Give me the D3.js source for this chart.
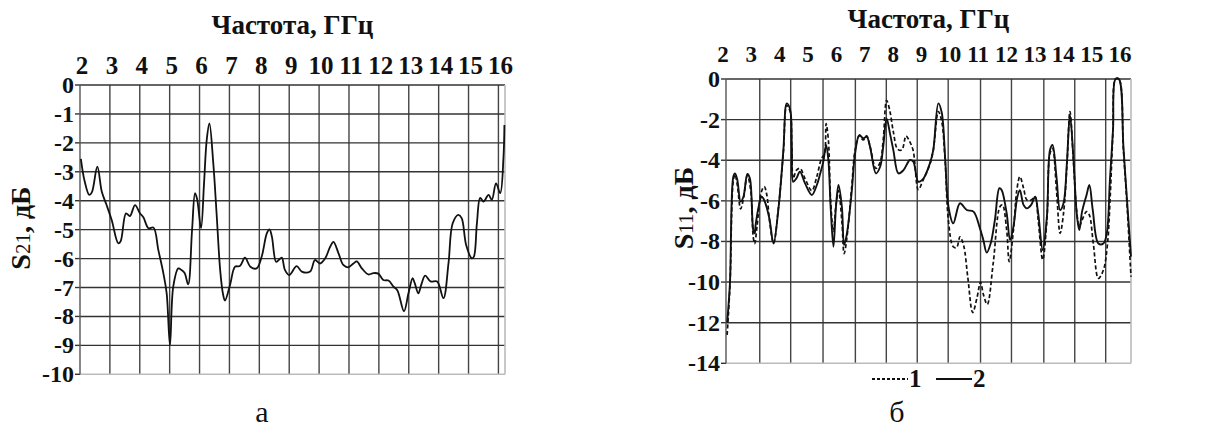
<!DOCTYPE html>
<html>
<head>
<meta charset="utf-8">
<script src="https://d3js.org/d3.v7.min.js"></script>
<style>
body { margin: 0; background: #fff; }
</style>
</head>
<body>
<div id="plot"></div>
<script>
var width = 1227, height = 428;

// S21 (a)
var s21 = [[2.03,-2.55],[2.15,-3.3],[2.31,-3.8],[2.4,-3.7],[2.58,-2.82],[2.73,-3.69],[2.89,-4.15],[3.06,-4.67],[3.28,-5.47],[3.36,-5.4],[3.54,-4.44],[3.67,-4.53],[3.84,-4.15],[4.01,-4.44],[4.12,-4.57],[4.29,-4.95],[4.46,-4.93],[4.62,-5.7],[4.79,-6.51],[4.9,-7.2],[5.01,-8.99],[5.12,-6.97],[5.29,-6.34],[5.4,-6.4],[5.5,-6.5],[5.62,-6.89],[5.75,-5.0],[5.85,-3.74],[5.92,-3.95],[6.05,-4.95],[6.15,-3.4],[6.24,-1.9],[6.33,-1.33],[6.46,-2.71],[6.57,-4.44],[6.69,-6.4],[6.78,-7.2],[6.85,-7.45],[7.02,-6.91],[7.19,-6.28],[7.35,-6.26],[7.52,-5.97],[7.7,-6.28],[7.91,-6.34],[8.08,-5.93],[8.25,-5.13],[8.34,-4.99],[8.42,-5.24],[8.56,-6.11],[8.65,-6.05],[8.75,-5.97],[8.86,-6.4],[9.0,-6.57],[9.25,-6.26],[9.42,-6.45],[9.7,-6.45],[9.86,-6.05],[10.03,-6.17],[10.2,-6.0],[10.37,-5.59],[10.48,-5.42],[10.65,-5.82],[10.81,-6.22],[10.98,-6.3],[11.15,-6.17],[11.26,-6.1],[11.43,-6.34],[11.65,-6.55],[11.82,-6.5],[11.98,-6.52],[12.15,-6.74],[12.32,-6.76],[12.49,-6.97],[12.62,-7.1],[12.84,-7.82],[12.99,-7.2],[13.13,-6.68],[13.2,-6.85],[13.32,-7.2],[13.42,-6.9],[13.55,-6.59],[13.73,-6.79],[13.95,-6.79],[14.16,-7.37],[14.33,-6.16],[14.47,-4.78],[14.66,-4.49],[14.77,-4.6],[14.92,-5.53],[15.11,-5.99],[15.18,-5.93],[15.28,-4.78],[15.39,-3.9],[15.5,-4.03],[15.67,-3.8],[15.78,-3.97],[15.92,-3.4],[16.06,-3.74],[16.17,-2.48],[16.2,-1.38]];

// S11 (б), curve 1 dashed
var s11a = [[2.04,-12.6],[2.14,-10.2],[2.26,-5.0],[2.32,-4.7],[2.4,-5.2],[2.52,-6.4],[2.62,-5.9],[2.76,-4.75],[2.88,-5.5],[2.97,-7.8],[3.02,-8.1],[3.1,-7.3],[3.25,-5.6],[3.36,-5.3],[3.45,-5.7],[3.55,-7.0],[3.69,-8.1],[3.86,-6.4],[4.04,-3.6],[4.16,-1.3],[4.28,-1.6],[4.34,-3.4],[4.39,-4.9],[4.5,-4.5],[4.63,-4.4],[4.81,-4.9],[5.05,-5.5],[5.23,-4.8],[5.4,-3.9],[5.5,-3.7],[5.56,-2.2],[5.64,-3.0],[5.72,-6.0],[5.82,-7.5],[5.91,-6.2],[6.0,-5.5],[6.12,-7.0],[6.2,-8.6],[6.3,-7.8],[6.47,-5.3],[6.59,-3.5],[6.74,-2.8],[6.88,-3.0],[7.0,-2.8],[7.12,-3.3],[7.33,-4.4],[7.48,-4.1],[7.59,-3.0],[7.71,-1.05],[7.83,-1.6],[7.95,-2.6],[8.1,-3.45],[8.25,-3.5],[8.4,-2.8],[8.5,-3.0],[8.65,-3.5],[8.84,-5.45],[9.0,-5.0],[9.25,-4.2],[9.37,-3.5],[9.55,-1.6],[9.67,-2.1],[9.79,-4.0],[9.91,-7.0],[10.08,-8.26],[10.2,-8.3],[10.32,-7.77],[10.45,-8.2],[10.6,-9.8],[10.77,-11.5],[10.92,-10.8],[11.05,-10.0],[11.15,-10.6],[11.29,-11.1],[11.5,-9.08],[11.74,-6.29],[11.83,-6.2],[11.98,-7.44],[12.07,-9.0],[12.22,-7.44],[12.34,-5.47],[12.45,-4.81],[12.58,-5.38],[12.7,-5.96],[12.85,-5.96],[12.99,-5.8],[13.1,-6.95],[13.26,-8.9],[13.41,-6.95],[13.52,-3.66],[13.61,-3.42],[13.75,-5.47],[13.88,-7.6],[14.0,-6.62],[14.12,-4.32],[14.23,-1.6],[14.35,-3.99],[14.47,-6.53],[14.56,-7.27],[14.66,-6.95],[14.82,-6.53],[14.92,-6.7],[15.06,-8.1],[15.24,-9.82],[15.42,-9.4],[15.56,-8.18],[15.66,-5.8],[15.76,-2.5],[15.85,0],[15.97,0],[16.13,-3.5],[16.25,-6.0],[16.4,-9.74]];

// S11 (б), curve 2 solid
var s11b = [[2.04,-12.0],[2.14,-10.06],[2.26,-4.81],[2.32,-4.65],[2.4,-4.95],[2.52,-6.04],[2.62,-5.8],[2.76,-4.68],[2.85,-4.9],[2.97,-7.44],[3.02,-7.6],[3.06,-7.11],[3.27,-5.8],[3.38,-6.04],[3.54,-6.86],[3.69,-8.1],[3.86,-6.45],[4.04,-3.5],[4.16,-1.2],[4.28,-1.5],[4.34,-3.33],[4.39,-5.06],[4.5,-4.9],[4.63,-4.57],[4.81,-5.14],[5.05,-5.71],[5.23,-5.22],[5.35,-4.65],[5.46,-4.07],[5.56,-3.25],[5.64,-3.99],[5.72,-6.29],[5.82,-8.26],[5.91,-6.29],[6.0,-5.22],[6.12,-6.29],[6.2,-8.18],[6.3,-7.6],[6.47,-5.55],[6.59,-3.66],[6.74,-2.76],[6.88,-2.92],[7.0,-2.84],[7.12,-3.33],[7.33,-4.65],[7.48,-4.32],[7.59,-3.33],[7.71,-1.94],[7.83,-2.68],[7.95,-3.5],[8.13,-4.65],[8.31,-4.49],[8.54,-3.99],[8.66,-4.07],[8.84,-5.06],[9.02,-4.9],[9.25,-4.15],[9.37,-3.5],[9.55,-1.2],[9.67,-1.65],[9.79,-3.83],[9.91,-6.29],[10.08,-7.11],[10.32,-6.12],[10.56,-6.45],[10.8,-6.53],[11.03,-7.36],[11.15,-7.93],[11.27,-8.55],[11.41,-8.1],[11.56,-6.95],[11.72,-5.38],[11.8,-5.47],[11.98,-6.62],[12.1,-7.93],[12.22,-7.27],[12.36,-5.8],[12.45,-5.47],[12.58,-6.2],[12.7,-6.37],[12.85,-6.2],[12.99,-5.8],[13.1,-6.62],[13.26,-8.42],[13.41,-6.78],[13.52,-3.5],[13.61,-3.25],[13.75,-4.82],[13.88,-6.45],[14.0,-6.12],[14.12,-4.15],[14.23,-1.77],[14.35,-3.83],[14.47,-6.62],[14.56,-7.44],[14.66,-6.53],[14.82,-5.71],[14.92,-5.22],[15.04,-6.45],[15.24,-8.1],[15.42,-8.1],[15.54,-7.6],[15.65,-4.98],[15.76,-2.51],[15.85,0],[15.97,0],[16.13,-3.33],[16.25,-5.8],[16.4,-8.75]];

var freqTicks = d3.range(2, 17);          // 2 ... 16 GHz
var s21Ticks = d3.range(0, -11, -1);      // 0 ... -10 dB
var s11Ticks = d3.range(0, -15, -2);      // 0 ... -14 dB
// the grid of panel б is not on whole GHz
var s11Grid = [3.2, 4.3, 5.45, 6.6, 7.7, 8.8, 9.9, 11.05, 12.15, 13.3, 14.4, 15.5];

var serif = '"Liberation Serif", "Times New Roman", serif';

var svg = d3.select("#plot").append("svg").attr("width", width).attr("height", height);
svg.append("rect").attr("width", width).attr("height", height).attr("fill", "#fff");

function label(sel) {
	return sel.style("font-family", serif).style("fill", "#111");
}

function panel(p) {
	var g = svg.append("g");
	var x = p.x, y = p.y;
	var x0 = x.range()[0], x1 = x.range()[1];
	var y0 = y.range()[0], y1 = y.range()[1];

	// vertical grid
	g.selectAll(".vg").data(p.grid).enter().append("line")
	.attr("x1", d => x(d)).attr("x2", d => x(d))
	.attr("y1", y1).attr("y2", y0)
	.attr("stroke", "#444").attr("stroke-width", 1.4);

	// horizontal grid + ticks
	g.selectAll(".hg").data(p.yTicks.slice(0, -1)).enter().append("line")
	.attr("x1", x0).attr("x2", x1)
	.attr("y1", d => y(d)).attr("y2", d => y(d))
	.attr("stroke", "#333").attr("stroke-width", 1.4);

	g.selectAll(".tk").data(p.yTicks).enter().append("line")
	.attr("x1", x0 - 5).attr("x2", x0)
	.attr("y1", d => y(d)).attr("y2", d => y(d))
	.attr("stroke", "#333").attr("stroke-width", 1.4);

	// frame: light bottom and right, dark left
	g.append("line").attr("x1", x0).attr("x2", x1).attr("y1", y0).attr("y2", y0)
	.attr("stroke", "#bbb").attr("stroke-width", 1.6);
	g.append("line").attr("x1", x1).attr("x2", x1).attr("y1", y1).attr("y2", y0)
	.attr("stroke", "#bbb").attr("stroke-width", 1.6);
	g.append("line").attr("x1", x0).attr("x2", x0).attr("y1", y1).attr("y2", y0)
	.attr("stroke", "#555").attr("stroke-width", 1.4);

	// y labels
	g.selectAll(".yl").data(p.yTicks).enter().append("text")
	.attr("x", x0 - 6).attr("y", d => y(d) + 8)
	.attr("text-anchor", "end").attr("font-weight", "bold")
	.attr("font-size", 24).text(d => d)
	.call(label);

	// x labels on top
	g.selectAll(".xl").data(freqTicks).enter().append("text")
	.attr("x", d => p.xl(d)).attr("y", p.xlY)
	.attr("text-anchor", "middle").attr("font-weight", "bold")
	.attr("font-size", p.xlSize).text(d => d)
	.call(label);

	g.append("text").attr("x", (x0 + x1) / 2).attr("y", p.titleY)
	.attr("text-anchor", "middle").attr("font-weight", "bold")
	.attr("font-size", 27).text("Частота, ГГц")
	.call(label);

	var yt = g.append("text")
	.attr("transform", "translate(" + p.ylX + "," + p.ylY + ") rotate(-90)")
	.attr("text-anchor", "middle").attr("font-weight", "bold").attr("font-size", 28)
	.call(label);
	yt.append("tspan").text("S");
	yt.append("tspan").attr("font-size", 21).attr("font-weight", "normal").text(p.sub);
	yt.append("tspan").text(", дБ");

	g.append("text").attr("x", p.capX).attr("y", 422)
	.attr("text-anchor", "middle").attr("font-size", 30).text(p.cap)
	.call(label);

	return g;
}

var line = d3.line().curve(d3.curveCatmullRom.alpha(0.5));

// panel а
var xa = d3.scaleLinear().domain([2, 16.22]).range([80, 505]);
var ya = d3.scaleLinear().domain([-10, 0]).range([374.3, 85]);
var ga = panel({ x: xa, y: ya, grid: freqTicks.slice(1), yTicks: s21Ticks,
	xl: d => xa(d) + 2, xlY: 74, xlSize: 25, titleY: 34,
	ylX: 30, ylY: 228, sub: "21", cap: "а", capX: 262 });
ga.append("path")
.attr("d", line(s21.map(d => [xa(d[0]), ya(d[1])])))
.attr("fill", "none").attr("stroke", "#111").attr("stroke-width", 1.8);

// panel б
var xb = d3.scaleLinear().domain([2, 16.4]).range([726, 1131]);
var yb = d3.scaleLinear().domain([-14, 0]).range([363.3, 79]);
var xbl = d3.scaleLinear().domain([2, 16]).range([723, 1120]);
var gb = panel({ x: xb, y: yb, grid: s11Grid, yTicks: s11Ticks,
	xl: xbl, xlY: 62, xlSize: 23, titleY: 28,
	ylX: 693, ylY: 208, sub: "11", cap: "б", capX: 897 });
gb.append("path")
.attr("d", line(s11a.map(d => [xb(d[0]), yb(d[1])])))
.attr("fill", "none").attr("stroke", "#111").attr("stroke-width", 1.7)
.attr("stroke-dasharray", "4,2.5");
gb.append("path")
.attr("d", line(s11b.map(d => [xb(d[0]), yb(d[1])])))
.attr("fill", "none").attr("stroke", "#111").attr("stroke-width", 1.9);

// legend
var legend = [{ name: "1", dash: "3,2", x: 872 }, { name: "2", dash: null, x: 936 }];
var lg = svg.selectAll(".leg").data(legend).enter().append("g");
lg.append("line").attr("x1", d => d.x).attr("x2", d => d.x + 36)
.attr("y1", 379).attr("y2", 379)
.attr("stroke", "#111").attr("stroke-width", 2)
.attr("stroke-dasharray", d => d.dash);
lg.append("text").attr("x", d => d.x + 37).attr("y", 387)
.attr("font-weight", "bold").attr("font-size", 25).text(d => d.name)
.call(label);
</script>
</body>
</html>
